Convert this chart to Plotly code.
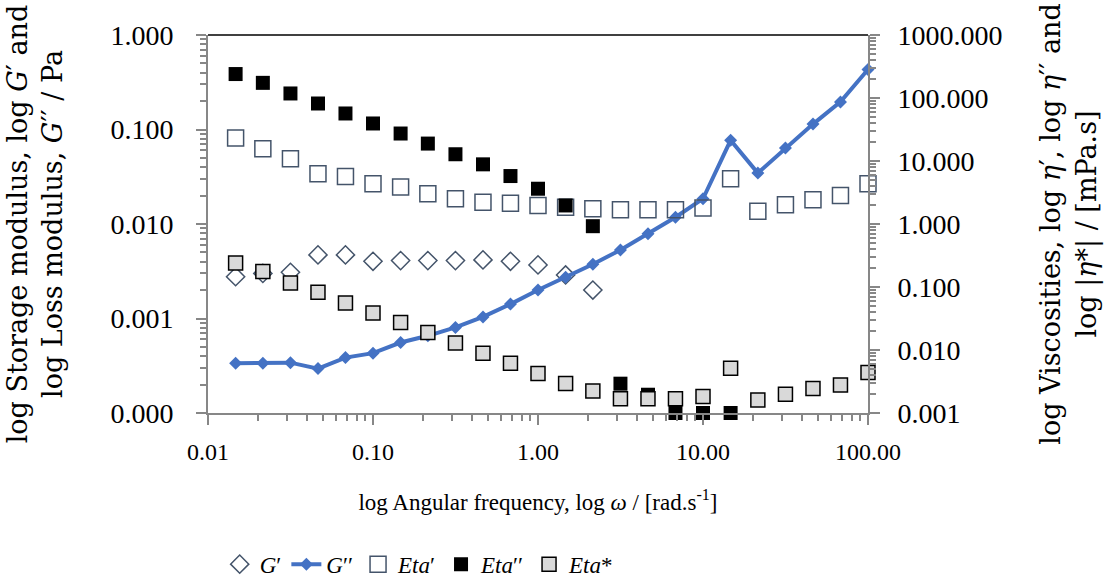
import plotly.graph_objects as go

# Angular frequency sweep, rad/s
omega = [0.0147, 0.0215, 0.0316, 0.0464, 0.0681, 0.1, 0.147, 0.215, 0.316, 0.464, 0.681, 1.0,
         1.47, 2.15, 3.16, 4.64, 6.81, 10.0, 14.7, 21.5, 31.6, 46.4, 68.1, 100.0]

# Storage modulus G' (Pa), only measured up to ~2 rad/s
g_storage = [0.00277, 0.0030, 0.00308, 0.00471, 0.00471, 0.00403, 0.0041, 0.0041, 0.0041, 0.00417,
             0.00403, 0.00369, 0.00289, 0.0020]

# Loss modulus G'' (Pa)
g_loss = [0.000336, 0.000336, 0.000341, 0.000295, 0.000386, 0.00043, 0.000557, 0.000656, 0.000804,
          0.00104, 0.00142, 0.0020, 0.00273, 0.00375, 0.00532, 0.00787, 0.0118, 0.0185, 0.0769,
          0.0346, 0.0638, 0.114, 0.196, 0.432]

# Dynamic viscosity components (mPa.s)
eta_real = [23.2, 15.7, 10.9, 6.30, 5.70, 4.36, 3.85, 3.03, 2.52, 2.22, 2.14, 1.97, 1.85, 1.75,
            1.68, 1.68, 1.68, 1.79, 5.24, 1.60, 2.02, 2.43, 2.84, 4.36]
eta_imag = [240, 174, 118, 81.8, 56.8, 39.4, 27.3, 18.9, 12.8, 8.85, 5.77, 3.63, 1.97, 0.923,
            0.00292, 0.00195, 0.001, 0.001, 0.001]
eta_complex = [0.241, 0.176, 0.116, 0.0822, 0.0557, 0.0386, 0.0274, 0.0190, 0.0129, 0.00891,
               0.00618, 0.00423, 0.00293, 0.00224, 0.00169, 0.00168, 0.00169, 0.00182, 0.00514,
               0.00161, 0.00198, 0.00244, 0.00279, 0.00438]

# Axis ticks
x_tickvals = [0.01, 0.1, 1, 10, 100]
x_ticktext = ["0.01", "0.10", "1.00", "10.00", "100.00"]
y1_tickvals = [0.0001, 0.001, 0.01, 0.1, 1]
y1_ticktext = ["0.000", "0.001", "0.010", "0.100", "1.000"]
y2_tickvals = [0.001, 0.01, 0.1, 1, 10, 100, 1000]
y2_ticktext = ["0.001", "0.010", "0.100", "1.000", "10.000", "100.000", "1000.000"]

FONT = "Liberation Serif"
TITLE_FONT = "DejaVu Serif"
AXIS_GREY = "#878787"
SLATE = "#44546a"

fig = go.Figure()

fig.add_trace(go.Scatter(
    x=omega[:len(g_storage)], y=g_storage, name="<i>G</i>′", mode="markers",
    marker=dict(symbol="diamond-open", size=14, color=SLATE, line=dict(width=1.5, color=SLATE)),
    cliponaxis=False))
fig.add_trace(go.Scatter(
    x=omega, y=g_loss, name="<i>G</i>′′", mode="lines+markers",
    line=dict(color="#4472c4", width=4),
    marker=dict(symbol="diamond", size=10, color="#4472c4"),
    cliponaxis=False))
fig.add_trace(go.Scatter(
    x=omega, y=eta_real, name="<i>Eta</i>′", mode="markers", yaxis="y2",
    marker=dict(symbol="square-open", size=16, color=SLATE, line=dict(width=1.5, color=SLATE)),
    cliponaxis=False))
fig.add_trace(go.Scatter(
    x=omega[:len(eta_imag)], y=eta_imag, name="<i>Eta</i>′′", mode="markers", yaxis="y2",
    marker=dict(symbol="square", size=14, color="#000000", line=dict(width=0)),
    cliponaxis=False))
fig.add_trace(go.Scatter(
    x=omega, y=eta_complex, name="<i>Eta</i>*", mode="markers", yaxis="y2",
    marker=dict(symbol="square", size=14, color="#d9d9d9", line=dict(width=1.5, color="#000000")),
    cliponaxis=False))

fig.update_layout(
    width=1117, height=588,
    margin=dict(l=208, r=249, t=35, b=175, autoexpand=False),
    paper_bgcolor="white", plot_bgcolor="white",
    font=dict(family=FONT, size=22, color="black"),
    showlegend=True,
    legend=dict(orientation="h", x=0.32, xanchor="center", y=-0.40, yanchor="middle",
                font=dict(size=23), itemwidth=30, tracegroupgap=0),
    xaxis=dict(
        type="log", range=[-2, 2], tickvals=x_tickvals, ticktext=x_ticktext, automargin=False,
        showgrid=False, zeroline=False, showline=True, linecolor=AXIS_GREY, linewidth=2,
        ticks="outside", ticklen=10, tickcolor=AXIS_GREY, tickwidth=1.5,
        tickfont=dict(size=24), ticklabelstandoff=6,
        minor=dict(ticks="outside", ticklen=6, tickcolor=AXIS_GREY, tickwidth=1.5, dtick="D1"),
        title=dict(text="log Angular frequency, log <i>ω</i> / [rad.s<sup>-1</sup>]",
                   font=dict(size=23), standoff=30),
    ),
    yaxis=dict(
        type="log", range=[-4, 0], tickvals=y1_tickvals, ticktext=y1_ticktext, automargin=False,
        showgrid=False, zeroline=False, showline=True, linecolor=AXIS_GREY, linewidth=2,
        ticks="outside", ticklen=10, tickcolor=AXIS_GREY, tickwidth=1.5,
        tickfont=dict(size=28), ticklabelstandoff=17,
        minor=dict(ticks="outside", ticklen=6, tickcolor=AXIS_GREY, tickwidth=1.5, dtick="D1"),
        title=dict(text="log Storage modulus, log <i>G</i>′ and<br>log Loss modulus, <i>G</i>′′ / Pa",
                   font=dict(size=27, family=TITLE_FONT), standoff=40),
    ),
    yaxis2=dict(
        type="log", range=[-3, 3], overlaying="y", side="right", automargin=False,
        tickvals=y2_tickvals, ticktext=y2_ticktext,
        showgrid=False, zeroline=False, showline=True, linecolor=AXIS_GREY, linewidth=2,
        ticks="outside", ticklen=10, tickcolor=AXIS_GREY, tickwidth=1.5,
        tickfont=dict(size=28), ticklabelstandoff=12,
        minor=dict(ticks="outside", ticklen=6, tickcolor=AXIS_GREY, tickwidth=1.5, dtick="D1"),
        title=dict(text="log Viscosities, log <i>η</i>′, log <i>η</i>′′ and<br>log |<i>η</i>*| / [mPa.s]",
                   font=dict(size=27, family=TITLE_FONT), standoff=40),
    ),
    shapes=[dict(type="line", xref="paper", yref="paper", x0=0, x1=1, y0=1, y1=1,
                 line=dict(color="#000000", width=1.5))],
)

fig.write_html("out.html")
